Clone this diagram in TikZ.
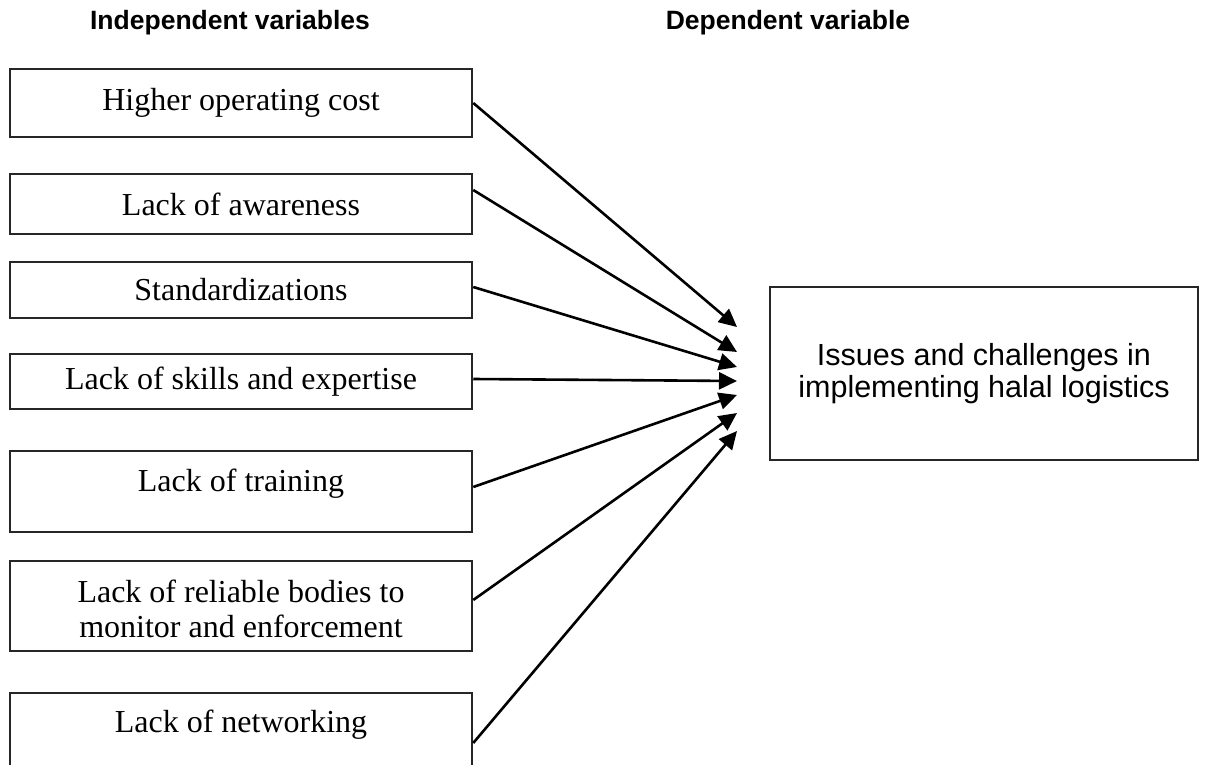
\documentclass[tikz,border=0pt]{standalone}
\usepackage{fontspec}
\setmainfont{Liberation Serif}
\newfontfamily\arialfont{Liberation Sans}
\usetikzlibrary{arrows.meta}
\begin{document}
\begin{tikzpicture}[x=1pt,y=-1pt,
  box/.style={draw=black!85, line width=2.5pt, rectangle, minimum width=462pt, inner sep=0pt},
  lbl/.style={font=\fontsize{32}{35}\selectfont, align=center, inner sep=0pt},
  head/.style={font=\arialfont\bfseries\fontsize{26.5}{30}\selectfont, inner sep=0pt},
  arr/.style={line width=2.6pt, -{Triangle[length=18pt,width=17pt]}}]
\clip (0,0) rectangle (1211,765);
\fill[white] (0,0) rectangle (1211,765);

\node[head] (hi) at (230,23) {Independent variables};
\node[head] (hd) at (788,23) {Dependent variable};

\node[box, minimum height=68pt, lbl] (b1) at (241,103) {Higher operating cost};
\node[box, minimum height=60pt, lbl] (b2) at (241,204) {Lack of awareness};
\node[box, minimum height=56pt, lbl] (b3) at (241,290) {Standardizations};
\node[box, minimum height=55pt, lbl] (b4) at (241,381.5) {Lack of skills and expertise};
\node[box, minimum height=81pt] (b5) at (241,491.5) {};
\node[lbl] (t5) at (241,484) {Lack of training};
\node[box, minimum height=90pt] (b6) at (241,606) {};
\node[lbl] (t6) at (241,609) {Lack of reliable bodies to\\monitor and enforcement};
\node[box, minimum height=100pt] (b7) at (241,743) {};
\node[lbl] (t7) at (241,725) {Lack of networking};

\node[draw=black!85, line width=2.5pt, minimum width=428pt, minimum height=173pt, inner sep=0pt,
      align=center, font=\arialfont\fontsize{30.5}{32}\selectfont] (dv) at (984,373.5)
      {Issues and challenges in\\implementing halal logistics};

\coordinate (e1) at (737,327);
\coordinate (e2) at (737,352);
\coordinate (e3) at (737,367);
\coordinate (e4) at (737,381);
\coordinate (e5) at (737,395);
\coordinate (e6) at (737,413);
\coordinate (e7) at (737,431);

\draw[arr] (b1.east) -- (e1);
\draw[arr] (b2.east |- 0,190) -- (e2);
\draw[arr] (b3.east |- 0,287) -- (e3);
\draw[arr] (b4.east |- 0,379) -- (e4);
\draw[arr] (b5.east |- 0,487) -- (e5);
\draw[arr] (b6.east |- 0,600) -- (e6);
\draw[arr] (b7.east |- 0,743) -- (e7);
\end{tikzpicture}
\end{document}
